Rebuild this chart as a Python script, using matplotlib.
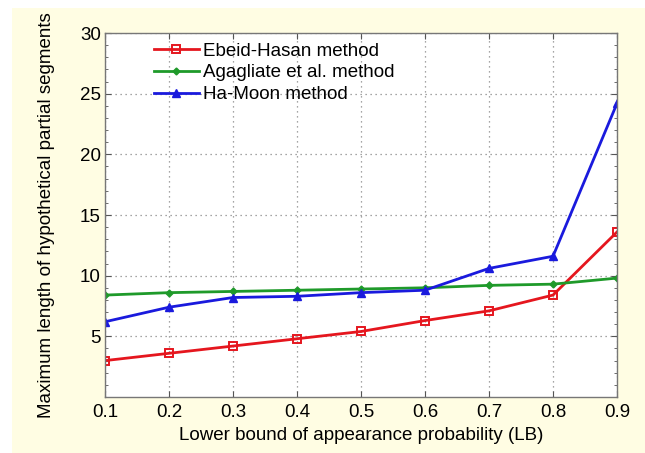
import matplotlib
matplotlib.use("Agg")
import matplotlib.pyplot as plt
from matplotlib.patches import Rectangle
from matplotlib.ticker import MultipleLocator

plt.rcParams['font.family'] = ['Liberation Sans', 'DejaVu Sans']

# data
lb = [0.1, 0.2, 0.3, 0.4, 0.5, 0.6, 0.7, 0.8, 0.9]
ebeid_hasan = [3.0, 3.6, 4.2, 4.8, 5.4, 6.3, 7.1, 8.4, 13.6]
agagliate = [8.4, 8.6, 8.7, 8.8, 8.9, 9.0, 9.2, 9.3, 9.8]
ha_moon = [6.2, 7.4, 8.2, 8.3, 8.6, 8.8, 10.6, 11.6, 24.2]
y_ticks = [5, 10, 15, 20, 25, 30]

fig = plt.figure(figsize=(6.45, 4.53), dpi=100)
fig.patch.set_facecolor('white')
# pale yellow panel behind the plot
fig.add_artist(Rectangle((12 / 645, 0), 1, 1 - 8 / 453, transform=fig.transFigure,
                         facecolor='#FFFDE3', edgecolor='none', zorder=-10))

ax = fig.add_axes([105 / 645, 1 - 397 / 453, 512 / 645, 364 / 453])
ax.set_zorder(1)
ax.set_facecolor('white')

ax.plot(lb, ebeid_hasan, color='#E5161E', lw=2, marker='s', ms=6,
        mfc='none', mec='#E5161E', mew=1.4, label='Ebeid-Hasan method')
ax.plot(lb, agagliate, color='#1F9A2A', lw=2, marker='D', ms=3.5,
        label='Agagliate et al. method')
ax.plot(lb, ha_moon, color='#1A1ADD', lw=2, marker='^', ms=5.5,
        label='Ha-Moon method')

ax.set_xlim(0.1, 0.9)
ax.set_ylim(0, 30)
ax.set_xticks(lb)
ax.set_xticklabels([f'{v:.1f}' for v in lb])
ax.set_yticks(y_ticks)
ax.yaxis.set_minor_locator(MultipleLocator(1))
ax.tick_params(which='both', direction='in', top=True, right=True,
               labelsize=13.5, color='#555555')
ax.tick_params(which='major', length=4)
ax.tick_params(which='minor', length=2.5)
ax.tick_params(axis='x', pad=5)
ax.tick_params(axis='y', pad=3)
ax.grid(True, which='major', linestyle=(0, (1, 3)), color='#888888', lw=0.9)
for s in ax.spines.values():
    s.set_color('#777777')
    s.set_linewidth(1.0)

ax.set_xlabel('Lower bound of appearance probability (LB)', fontsize=13.5, labelpad=4)
ax.set_ylabel('Maximum length of hypothetical partial segments', fontsize=13.5, labelpad=18)

leg = ax.legend(loc='upper left', bbox_to_anchor=(0.07, 1.01), frameon=False,
                fontsize=13.5, handlelength=2.4, handletextpad=0.2,
                labelspacing=0.25, borderaxespad=0.3)

fig.savefig('out.png', dpi=100, facecolor=fig.get_facecolor())
